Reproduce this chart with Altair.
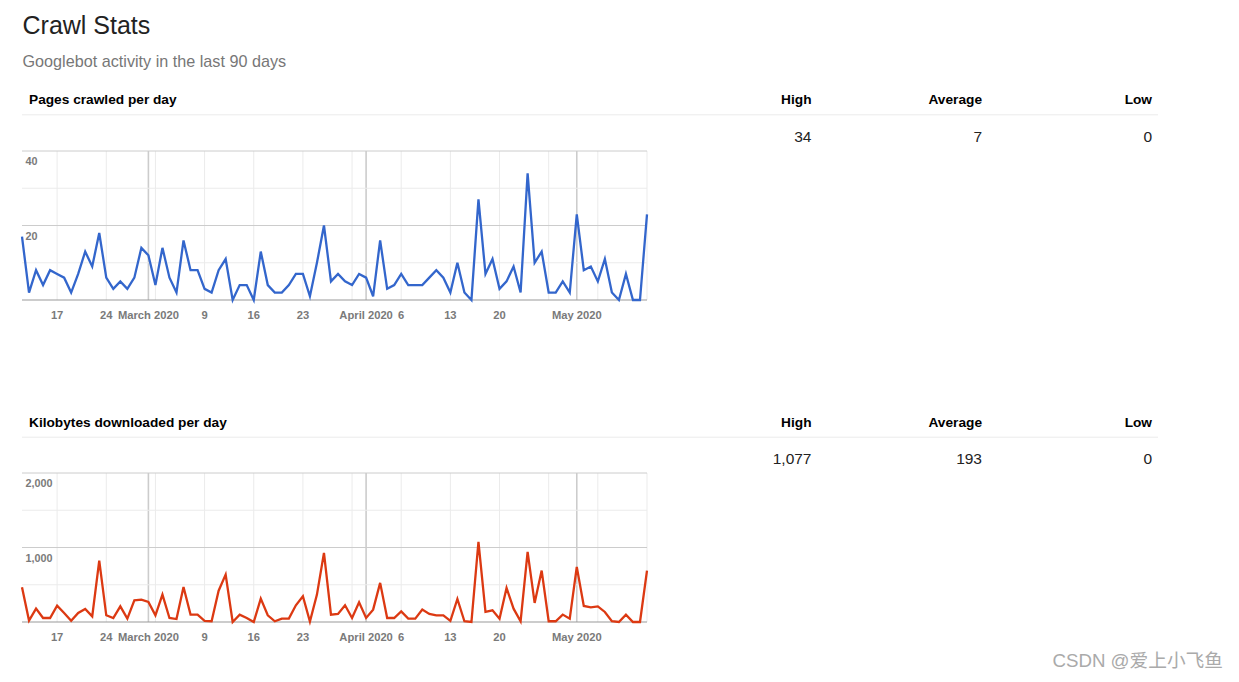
import altair as alt
import pandas as pd

# ---------------- data ----------------
dates = [d.strftime("%Y-%m-%d") for d in pd.date_range("2020-02-12", "2020-05-11", freq="D")]

pages_crawled = [17, 2, 8, 4, 8, 7, 6, 2, 7, 13, 9, 18, 6, 3, 5, 3, 6, 14, 12, 4,
                 14, 6, 2, 16, 8, 8, 3, 2, 8, 11, 0, 4, 4, 0, 13, 4, 2, 2, 4, 7,
                 7, 1, 10, 20, 5, 7, 5, 4, 7, 6, 1, 16, 3, 4, 7, 4, 4, 4, 6, 8,
                 6, 2, 10, 2, 0, 27, 7, 11, 3, 5, 9, 2, 34, 10, 13, 2, 2, 5, 2, 23,
                 8, 9, 5, 11, 2, 0, 7, 0, 0, 23]

kilobytes = [466, 20, 180, 54, 54, 220, 121, 15, 121, 175, 76, 825, 90, 54, 210, 45, 290, 300, 270, 90,
             368, 54, 40, 470, 99, 99, 15, 10, 420, 637, 0, 99, 54, 0, 314, 90, 10, 45, 45, 224,
             345, 5, 368, 928, 99, 108, 224, 54, 265, 54, 166, 525, 54, 54, 143, 45, 45, 166, 108, 90,
             90, 15, 309, 10, 0, 1077, 135, 157, 45, 457, 179, 10, 942, 256, 690, 10, 10, 99, 45, 740,
             215, 197, 210, 135, 10, 0, 99, 0, 0, 690]

week_ticks = ["2020-02-17", "2020-02-24", "2020-03-02", "2020-03-09", "2020-03-16", "2020-03-23",
              "2020-03-30", "2020-04-06", "2020-04-13", "2020-04-20", "2020-04-27", "2020-05-04",
              "2020-05-11"]
month_ticks = ["2020-03-01", "2020-04-01", "2020-05-01"]
x_label_dates = ["2020-02-17", "2020-02-24", "2020-03-01", "2020-03-09", "2020-03-16", "2020-03-23",
                 "2020-04-01", "2020-04-06", "2020-04-13", "2020-04-20", "2020-05-01"]
x_label_texts = ["17", "24", "March 2020", "9", "16", "23", "April 2020", "6", "13", "20", "May 2020"]

pages_minor = [10, 30]
pages_major = [20, 40]
pages_labels = ["20", "40"]
kb_minor = [500, 1500]
kb_major = [1000, 2000]
kb_labels = ["1,000", "2,000"]

stat_headers = ["High", "Average", "Low"]
pages_stats = ["34", "7", "0"]
kb_stats = ["1,077", "193", "0"]

FONT = "Liberation Sans"
X0, X1 = 22, 647

xscale = alt.Scale(type="utc",
                   domain=[alt.DateTime(year=2020, month=2, date=12, utc=True),
                           alt.DateTime(year=2020, month=5, date=11, utc=True)],
                   range=[X0, X1])


def text(txt, x, y, size, color="#000000", weight="normal", align="left", font=FONT):
    return alt.Chart(pd.DataFrame({"t": [txt]})).mark_text(
        align=align, baseline="alphabetic", fontSize=size, fontWeight=weight,
        color=color, font=font
    ).encode(x=alt.value(x), y=alt.value(y), text="t:N")


def panel(values, color, top, bottom, ymax, minor, major, major_labels,
          header, stats, header_y):
    yscale = alt.Scale(domain=[0, ymax], range=[bottom, top])
    layers = []
    # weekly vertical grid
    layers.append(alt.Chart(pd.DataFrame({"d": week_ticks})).mark_rule(
        color="#ebebeb", strokeWidth=1).encode(
        x=alt.X("d:T", scale=xscale, axis=None), y=alt.value(top), y2=alt.value(bottom)))
    # month vertical grid
    layers.append(alt.Chart(pd.DataFrame({"d": month_ticks})).mark_rule(
        color="#cccccc", strokeWidth=1.6).encode(
        x=alt.X("d:T", scale=xscale, axis=None), y=alt.value(top), y2=alt.value(bottom)))
    # horizontal grid
    layers.append(alt.Chart(pd.DataFrame({"v": minor})).mark_rule(
        color="#ebebeb", strokeWidth=1).encode(
        y=alt.Y("v:Q", scale=yscale, axis=None), x=alt.value(X0), x2=alt.value(X1)))
    layers.append(alt.Chart(pd.DataFrame({"v": major})).mark_rule(
        color="#cccccc", strokeWidth=1).encode(
        y=alt.Y("v:Q", scale=yscale, axis=None), x=alt.value(X0), x2=alt.value(X1)))
    # baseline
    layers.append(alt.Chart(pd.DataFrame({"v": [0]})).mark_rule(
        color="#999999", strokeWidth=1).encode(
        y=alt.Y("v:Q", scale=yscale, axis=None), x=alt.value(X0), x2=alt.value(X1)))
    # data line
    layers.append(alt.Chart(pd.DataFrame({"date": dates, "v": values})).mark_line(
        color=color, strokeWidth=2.3, strokeJoin="miter").encode(
        x=alt.X("date:T", scale=xscale, axis=None),
        y=alt.Y("v:Q", scale=yscale, axis=None)))
    # y labels
    layers.append(alt.Chart(pd.DataFrame({"v": major, "lab": major_labels})).mark_text(
        align="left", baseline="alphabetic", dy=14, fontSize=10.8, fontWeight="bold",
        color="#7a7a7a", font=FONT).encode(
        y=alt.Y("v:Q", scale=yscale, axis=None), x=alt.value(25.5), text="lab:N"))
    # x labels
    layers.append(alt.Chart(pd.DataFrame({"d": x_label_dates, "lab": x_label_texts})).mark_text(
        align="center", baseline="alphabetic", fontSize=11.2, fontWeight="bold",
        color="#7a7a7a", font=FONT).encode(
        x=alt.X("d:T", scale=xscale, axis=None), y=alt.value(bottom + 18.8), text="lab:N"))
    # header row
    layers.append(text(header, 29, header_y, 13.7, weight="bold"))
    for h, xr in zip(stat_headers, [811.5, 982, 1152]):
        layers.append(text(h, xr, header_y, 13.7, weight="bold", align="right"))
    layers.append(alt.Chart(pd.DataFrame({"v": [0]})).mark_rule(
        color="#ebebeb", strokeWidth=1).encode(
        y=alt.value(header_y + 10.5), x=alt.value(22), x2=alt.value(1158)))
    for s, xr in zip(stats, [811.5, 982, 1152]):
        layers.append(text(s, xr, header_y + 37.5, 15.5, color="#222222", align="right"))
    return layers


layers = []
layers.append(text("Crawl Stats", 22.5, 33.5, 25, color="#222222"))
layers.append(text("Googlebot activity in the last 90 days", 22.5, 67, 16.2, color="#777777"))
layers += panel(pages_crawled, "#3366cc", 151, 300, 40, pages_minor, pages_major, pages_labels,
                "Pages crawled per day", pages_stats, 104.3)
layers += panel(kilobytes, "#dc3912", 473, 622, 2000, kb_minor, kb_major, kb_labels,
                "Kilobytes downloaded per day", kb_stats, 426.7)
layers.append(text("CSDN @爱上小飞鱼", 1223, 667, 18.7, color="#aaaaaa", align="right",
                   font="Liberation Sans, Noto Sans CJK SC"))

chart = alt.layer(*layers).resolve_scale(
    x="independent", y="independent"
).properties(
    width=1239, height=682, padding=0, autosize="none", background="#ffffff"
).configure_view(stroke=None)

chart.save("out.html", embed_options={"renderer": "svg", "actions": False})
